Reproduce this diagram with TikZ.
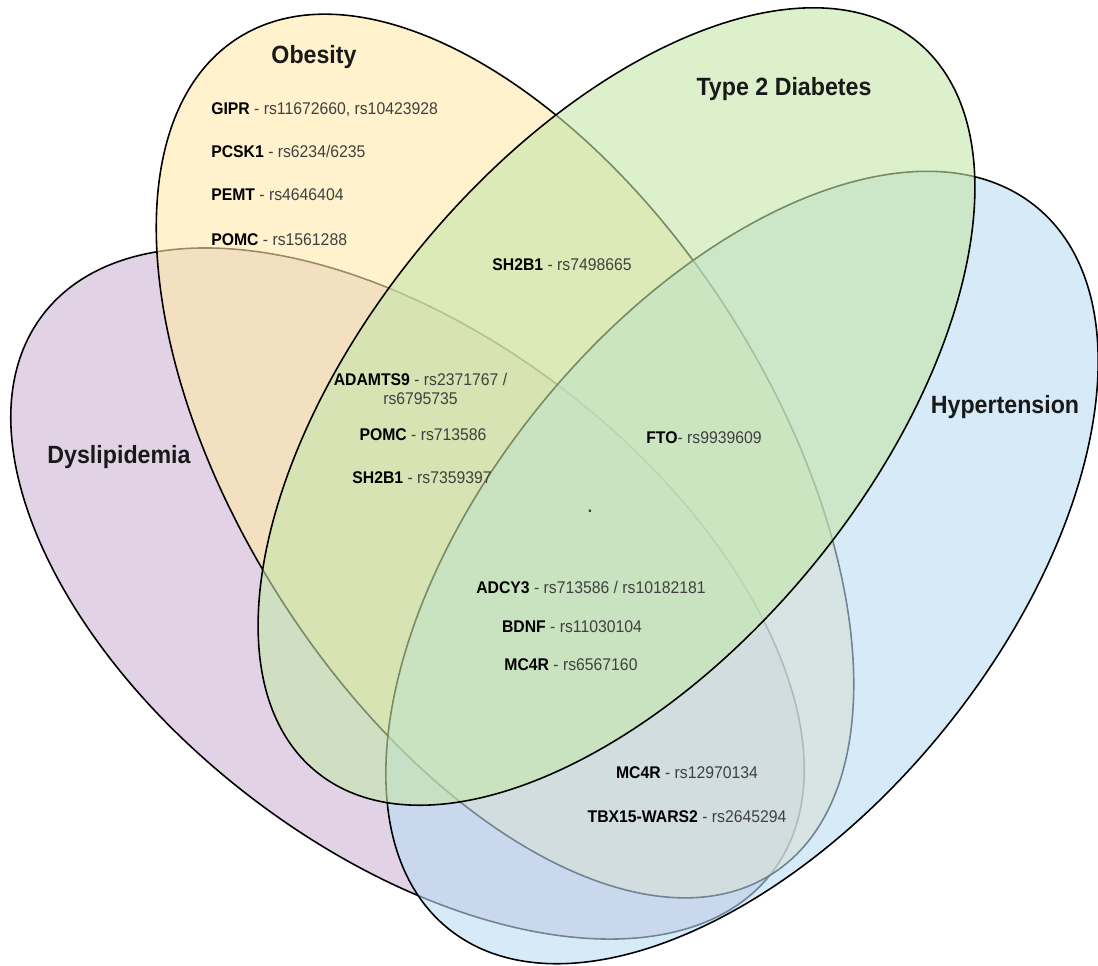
\documentclass[tikz,border=0pt]{standalone}
\usepackage{fontspec}
\setmainfont{Liberation Sans}[FakeStretch=0.93]
\usepackage{xcolor}
\definecolor{cDys}{RGB}{205,182,212}
\definecolor{cObe}{RGB}{255,233,170}
\definecolor{cHyp}{RGB}{187,220,243}
\definecolor{cT2D}{RGB}{197,230,170}
\newcommand\genefont{\fontsize{9.64}{11.3}\selectfont}
\newcommand\titlefont{\fontsize{14.2}{17}\selectfont\bfseries}
\newcommand\gn[1]{{\bfseries\color{black}#1}}
\begin{document}
\begin{tikzpicture}[x=0.02cm,y=-0.02cm,
  setshape/.style={draw=black, line width=0.9pt, fill opacity=0.6},
  gene/.style={font=\genefont, inner sep=0pt, text=black!75},
  title/.style={font=\titlefont, inner sep=0pt, text=black!90}]
\useasboundingbox (0,0) rectangle (1098,965);
% sets
\draw[setshape, fill=cDys, shift={(407.5,593.5)}, rotate=-37.4] (0,0) ellipse [x radius=459, y radius=257];
\draw[setshape, fill=cObe, shift={(505,456)}, rotate=-57.4] (0,0) ellipse [x radius=496, y radius=266];
\draw[setshape, fill=cHyp, shift={(742,567.5)}, rotate=50.8] (0,0) ellipse [x radius=465.5, y radius=259];
\draw[setshape, fill=cT2D, shift={(616.5,406.5)}, rotate=50.5] (0,0) ellipse [x radius=472.8, y radius=252.6];
% titles
\node[title, anchor=base] (tObe) at (314,63) {Obesity};
\node[title, anchor=base] (tT2D) at (784,95) {Type 2 Diabetes};
\node[title, anchor=base] (tHyp) at (1005,413) {Hypertension};
\node[title, anchor=base] (tDys) at (119,463) {Dyslipidemia};
% obesity only
\node[gene, anchor=base west] (g1) at (211,114) {\gn{GIPR} - rs11672660, rs10423928};
\node[gene, anchor=base west] (g2) at (211,157) {\gn{PCSK1} - rs6234/6235};
\node[gene, anchor=base west] (g3) at (211,200) {\gn{PEMT} - rs4646404};
\node[gene, anchor=base west] (g4) at (211,245) {\gn{POMC} - rs1561288};
% obesity + T2D
\node[gene, anchor=base] (g5) at (562,270) {\gn{SH2B1} - rs7498665};
% obesity + T2D + dyslipidemia
\node[gene, align=center, anchor=center] (g6) at (420.5,389) {\gn{ADAMTS9} - rs2371767 /\\rs6795735};
\node[gene, anchor=base] (g7) at (423,440) {\gn{POMC} - rs713586};
\node[gene, anchor=base] (g8) at (422,483) {\gn{SH2B1} - rs7359397};
% obesity + T2D + hypertension
\node[gene, anchor=base] (g9) at (704,443) {\gn{FTO}- rs9939609};
% centre
\node[gene, anchor=base] (dot) at (590,512) {\bfseries .};
\node[gene, anchor=base] (g10) at (591,593) {\gn{ADCY3} - rs713586 / rs10182181};
\node[gene, anchor=base] (g11) at (572,632) {\gn{BDNF} - rs11030104};
\node[gene, anchor=base] (g12) at (571,670) {\gn{MC4R} - rs6567160};
% obesity + dyslipidemia + hypertension
\node[gene, anchor=base] (g13) at (687,778) {\gn{MC4R} - rs12970134};
\node[gene, anchor=base] (g14) at (687,822) {\gn{TBX15-WARS2} - rs2645294};
\end{tikzpicture}
\end{document}
